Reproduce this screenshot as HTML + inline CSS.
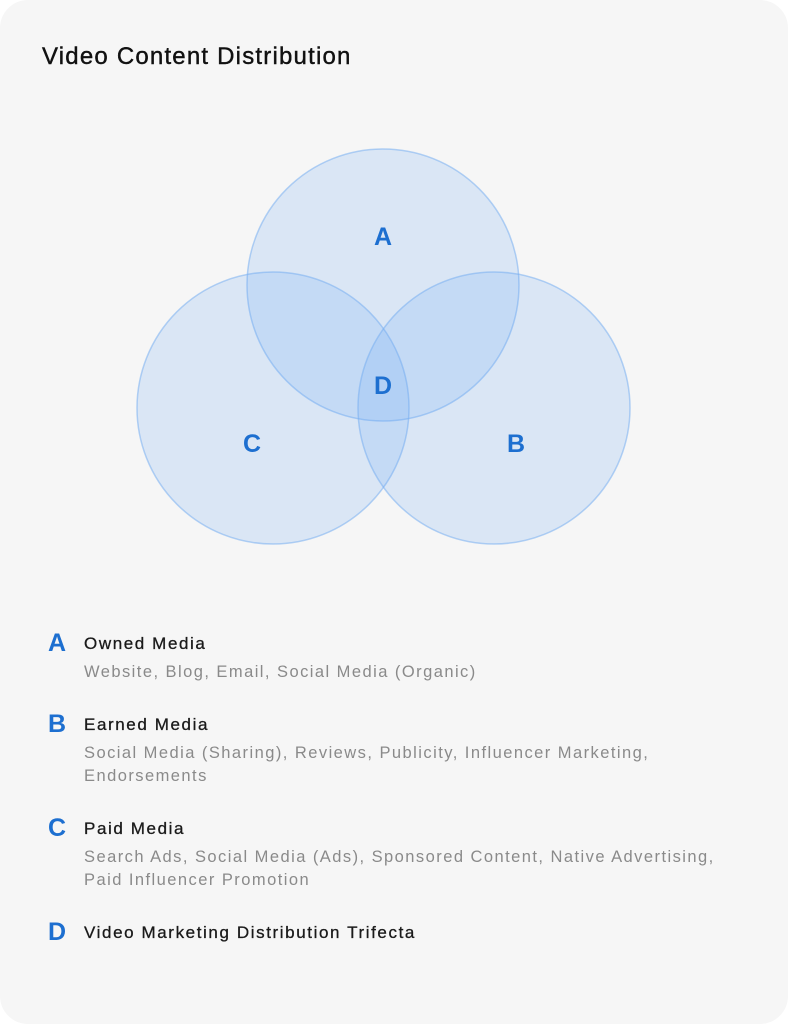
<!DOCTYPE html>
<html><head><style>
html,body{margin:0;padding:0;background:#fff;}
.card{position:absolute;left:0;top:0;width:788px;height:1024px;background:#f6f6f6;border-radius:28px;font-family:"Liberation Sans",sans-serif;}
.t{position:absolute;left:42px;top:43px;font-size:24px;color:#111;letter-spacing:1.2px;-webkit-text-stroke:0.4px #111}
.L{position:absolute;left:48px;font-size:25px;color:#1d6fd0;font-weight:bold}
.h{position:absolute;left:84px;font-size:17px;color:#1a1a1a;letter-spacing:1.6px;-webkit-text-stroke:0.3px #1a1a1a}
.d{position:absolute;left:84px;font-size:16.5px;color:#8a8a8a;line-height:23px;width:700px;letter-spacing:1.45px}
</style></head><body>
<div class="card">
<div class="t">Video Content Distribution</div>
<svg width="788" height="1024" style="position:absolute;left:0;top:0">
<g fill="rgba(110,170,245,0.2)" stroke="rgba(120,175,240,0.55)" stroke-width="1.5">
<circle cx="383" cy="285" r="136"/>
<circle cx="273" cy="408" r="136"/>
<circle cx="494" cy="408" r="136"/>
</g>
<g fill="#1d6fd0" font-family="Liberation Sans,sans-serif" font-size="25" text-anchor="middle" font-weight="bold">
<text x="383" y="245">A</text>
<text x="383" y="394">D</text>
<text x="252" y="452">C</text>
<text x="516" y="452">B</text>
</g>
</svg>
<div class="L" style="top:629px">A</div><div class="h" style="top:634px">Owned Media</div>
<div class="d" style="top:661px">Website, Blog, Email, Social Media (Organic)</div>
<div class="L" style="top:710px">B</div><div class="h" style="top:715px">Earned Media</div>
<div class="d" style="top:742px">Social Media (Sharing), Reviews, Publicity, Influencer Marketing,<br>Endorsements</div>
<div class="L" style="top:814px">C</div><div class="h" style="top:819px">Paid Media</div>
<div class="d" style="top:846px">Search Ads, Social Media (Ads), Sponsored Content, Native Advertising,<br>Paid Influencer Promotion</div>
<div class="L" style="top:918px">D</div><div class="h" style="top:923px">Video Marketing Distribution Trifecta</div>
</div>
</body></html>
